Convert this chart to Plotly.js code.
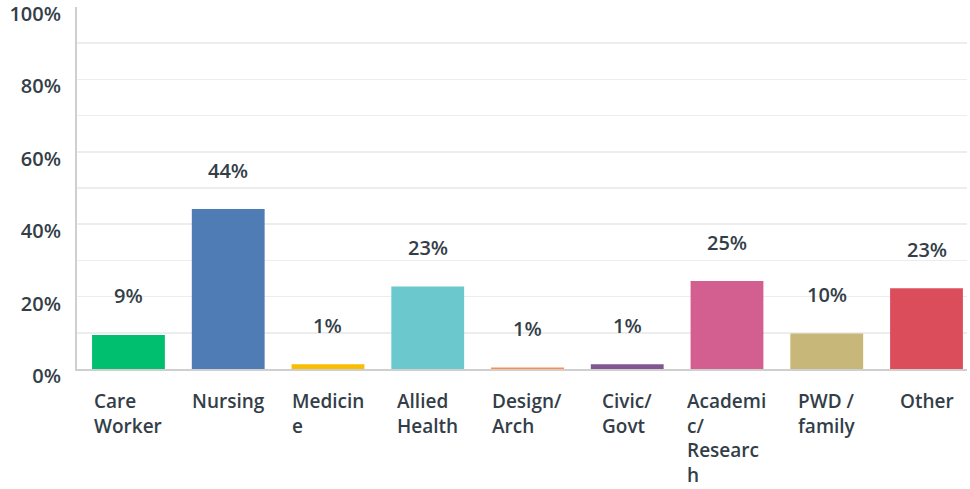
<!DOCTYPE html>
<html>
<head>
<meta charset="utf-8">
<script src="https://cdn.plot.ly/plotly-3.0.1.min.js"></script>
<style>html,body{margin:0;padding:0;background:#fff;}#chart{width:970px;height:489px;}</style>
</head>
<body>
<div id="chart"></div>
<script>
const categories = ["Care Worker","Nursing","Medicine","Allied Health","Design/ Arch","Civic/ Govt","Academic/ Research","PWD / family","Other"];
const categoryLabels = ["Care<br>Worker","Nursing","Medicin<br>e","Allied<br>Health","Design/<br>Arch","Civic/<br>Govt","Academi<br>c/<br>Researc<br>h","PWD /<br>family","Other"];
const values = [9.4, 44.2, 1.3, 22.8, 0.4, 1.3, 24.3, 9.8, 22.3];
const valueLabels = ["9%","44%","1%","23%","1%","1%","25%","10%","23%"];
const colors = ["#00bf6f","#507cb6","#f9be00","#6bc8cd","#ff8b4f","#7f5691","#d25f90","#c7b879","#dc4d5c"];
const yTickVals = [0,20,40,60,80,100];
const yTickText = ["0%","20%","40%","60%","80%","100%"];

const textColor = "#333e48";
const fontFam = "'Open Sans', sans-serif";

const trace = {
  type: "bar",
  x: categories,
  y: values,
  width: 0.73,
  marker: {color: colors},
  hoverinfo: "none"
};

const annotations = [];
categories.forEach((c, i) => {
  annotations.push({
    x: c, y: values[i], xref: "x", yref: "y",
    text: valueLabels[i], showarrow: false,
    xanchor: "center", yanchor: "middle", yshift: 39,
    font: {family: fontFam, size: 20, color: textColor, weight: 600}
  });
  annotations.push({
    x: c, y: 0, xref: "x", yref: "y",
    text: categoryLabels[i], showarrow: false,
    xanchor: "center", yanchor: "top", yshift: -17, align: "left",
    font: {family: fontFam, size: 19, color: textColor, weight: 600}
  });
});

const layout = {
  width: 970, height: 489,
  margin: {l: 77, r: 3, t: 7, b: 120},
  paper_bgcolor: "#fff", plot_bgcolor: "#fff",
  showlegend: false,
  bargap: 0.27,
  xaxis: {
    type: "category",
    range: [-0.516, 8.406],
    showticklabels: false,
    showgrid: false,
    zeroline: false,
    showline: true, linecolor: "#cfcfcf", linewidth: 2,
    fixedrange: true
  },
  yaxis: {
    range: [0, 100],
    tickvals: yTickVals, ticktext: yTickText,
    showgrid: true, gridcolor: "#ededed", gridwidth: 1.5,
    minor: {dtick: 10, tick0: 0, showgrid: true, gridcolor: "#ededed", gridwidth: 1.5},
    zeroline: false,
    showline: true, linecolor: "#cfcfcf", linewidth: 2,
    ticks: "",
    ticklabelshift: 7,
    ticklabelstandoff: 10,
    tickfont: {family: fontFam, size: 20, color: textColor, weight: 600},
    fixedrange: true
  },
  annotations: annotations
};

Plotly.newPlot("chart", [trace], layout, {displayModeBar: false, staticPlot: true});
</script>
</body>
</html>
